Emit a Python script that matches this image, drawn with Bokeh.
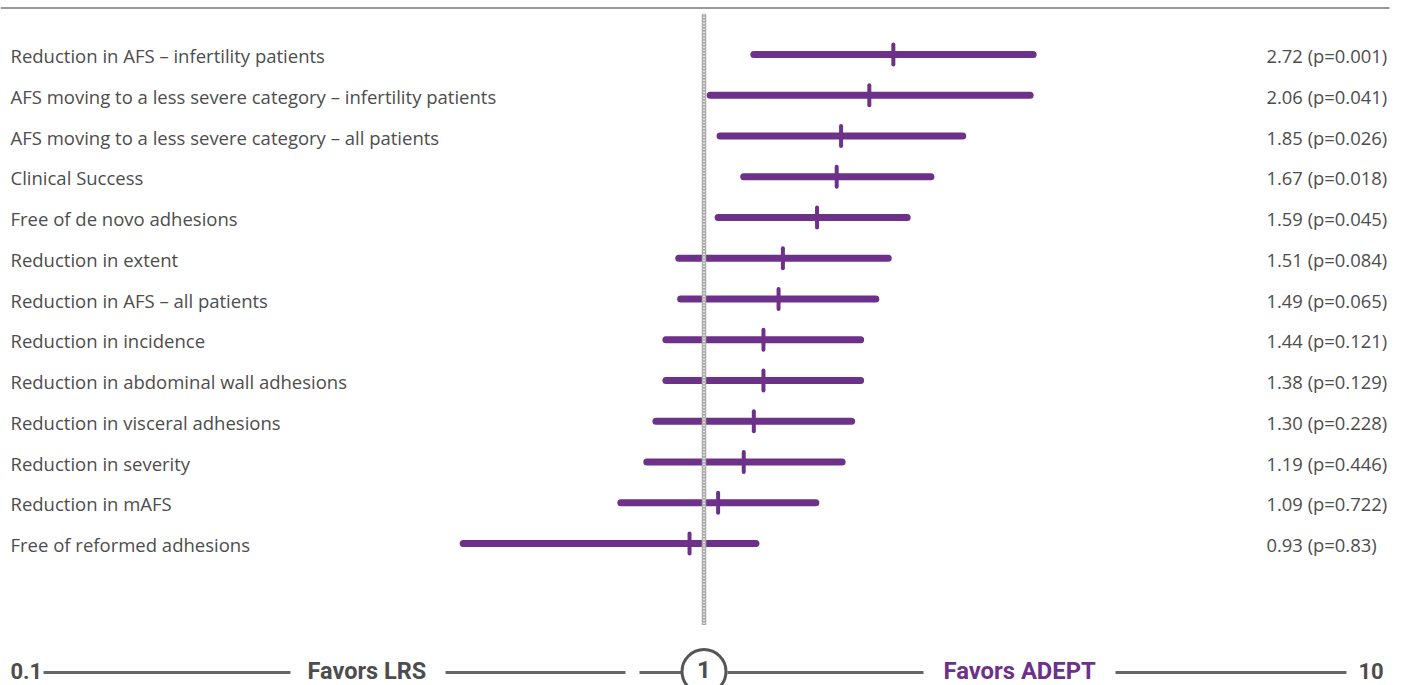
import numpy as np
from bokeh.plotting import figure
from bokeh.models import Range1d, Label
from bokeh.embed import file_html
from bokeh.resources import INLINE
from bokeh.core.properties import value

# ---------------- data ----------------
labels = [
    "Reduction in AFS \u2013 infertility patients",
    "AFS moving to a less severe category \u2013 infertility patients",
    "AFS moving to a less severe category \u2013 all patients",
    "Clinical Success",
    "Free of de novo adhesions",
    "Reduction in extent",
    "Reduction in AFS \u2013 all patients",
    "Reduction in incidence",
    "Reduction in abdominal wall adhesions",
    "Reduction in visceral adhesions",
    "Reduction in severity",
    "Reduction in mAFS",
    "Free of reformed adhesions",
]
value_labels = [
    "2.72 (p=0.001)", "2.06 (p=0.041)", "1.85 (p=0.026)", "1.67 (p=0.018)",
    "1.59 (p=0.045)", "1.51 (p=0.084)", "1.49 (p=0.065)", "1.44 (p=0.121)",
    "1.38 (p=0.129)", "1.30 (p=0.228)", "1.19 (p=0.446)", "1.09 (p=0.722)",
    "0.93 (p=0.83)",
]
# values (odds-ratio scale)
estimate = [2.48, 2.21, 1.93, 1.89, 1.72, 1.46, 1.43, 1.33, 1.33, 1.27, 1.21, 1.07, 0.933]
ci_low   = [1.27, 1.03, 1.08, 1.21, 1.07, 0.886, 0.894, 0.833, 0.833, 0.794, 0.760, 0.671, 0.315]
ci_high  = [4.85, 4.78, 3.46, 2.97, 2.65, 2.42, 2.28, 2.12, 2.12, 2.03, 1.94, 1.71, 1.283]
axis_labels = ["0.1", "Favors LRS", "1", "Favors ADEPT", "10"]
ref_value = 1.0

# ---------------- layout ----------------
W, H = 1403, 685
PX_PER_DEC = 480.0
ONE_PX = 703.5
ROW0, ROW_H = 54.0, 40.75
PURPLE = "#6E3189"
TEXT = "#4d4d4d"
FONT = value("Open Sans")

def sx(px):  # page px -> data x
    return 10 ** ((px - ONE_PX) / PX_PER_DEC)

def sy(py):  # page px -> data row
    return (py - ROW0) / ROW_H

rows = np.arange(len(labels), dtype=float)

p = figure(width=W, height=H, output_backend="svg", toolbar_location=None,
           x_axis_type="log", x_axis_location=None, y_axis_location=None,
           x_range=Range1d(10 ** (-ONE_PX / PX_PER_DEC), 10 ** ((W - ONE_PX) / PX_PER_DEC)),
           y_range=Range1d((H - ROW0) / ROW_H, -ROW0 / ROW_H),
           min_border=0, outline_line_color=None)
p.grid.visible = False
p.background_fill_color = "white"

# top rule
p.segment(x0=[sx(0)], x1=[sx(1389)], y0=[sy(7.5)], y1=[sy(7.5)],
          line_color="#777777", line_width=1.5)

# confidence intervals
p.segment(x0=ci_low, x1=ci_high, y0=rows, y1=rows, line_color=PURPLE,
          line_width=7, line_cap="round")

# reference line at 1 (chain look)
p.segment(x0=[ref_value], x1=[ref_value], y0=[-1], y1=[14],
          line_color="#ababab", line_width=4.5)
p.segment(x0=[ref_value], x1=[ref_value], y0=[-1], y1=[14],
          line_color="white", line_width=1.8, line_dash="1 2")

# point estimates
p.segment(x0=estimate, x1=estimate, y0=rows - 0.245, y1=rows + 0.245,
          line_color=PURPLE, line_width=4, line_cap="round")

# labels
p.text(x=[sx(10)] * len(labels), y=rows + 0.03, text=labels, text_font=FONT,
       text_font_size="18.5px", text_color=TEXT, text_align="left",
       text_baseline="middle")
p.text(x=[sx(1266)] * len(labels), y=rows + 0.03, text=value_labels, text_font=FONT,
       text_font_size="18.4px", text_color=TEXT, text_align="left",
       text_baseline="middle")

# bottom decorative axis
AX_Y = sy(672)
for a, b in [(43, 290), (445, 625), (639, 681), (727, 923), (1115, 1346)]:
    p.segment(x0=[sx(a)], x1=[sx(b)], y0=[AX_Y], y1=[AX_Y],
              line_color="#666666", line_width=3)
p.scatter(x=[ref_value], y=[sy(671)], marker="circle", size=44,
          fill_color="white", line_color="#555555", line_width=3)

mid_y = sy(670.5)
for txt, px, color, size in [
    (axis_labels[0], 10, TEXT, "22px"),
    (axis_labels[1], 307, TEXT, "23.5px"),
    (axis_labels[3], 943, PURPLE, "23.8px"),
    (axis_labels[4], 1358, TEXT, "22px"),
]:
    p.add_layout(Label(x=sx(px), y=mid_y, text=txt, text_font="Roboto",
                       text_font_size=size, text_font_style="bold",
                       text_color=color, text_align="left",
                       text_baseline="middle"))
p.add_layout(Label(x=ref_value, y=sy(668.5), text=axis_labels[2], text_font="Roboto",
                   text_font_size="24px", text_font_style="bold",
                   text_color=TEXT, text_align="center",
                   text_baseline="middle"))

open("out.html", "w").write(file_html(p, INLINE))
